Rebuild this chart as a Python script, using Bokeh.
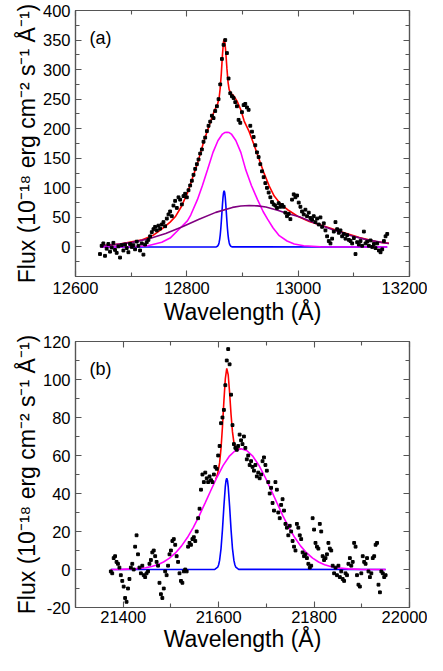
import numpy as np
from bokeh.plotting import figure
from bokeh.models import LinearAxis, FixedTicker, Range1d, Label, NumeralTickFormatter
from bokeh.layouts import column
from bokeh.embed import file_html
from bokeh.resources import INLINE

FONT = "Liberation Sans"
FRAME = "#555555"

# ---------------- panel (a) ----------------
A_WL_START = 12644
A_WL_STEP = 3
A_FLUX = [
    -12, 2, 6, -15, -3, 5, -8, -1, 7, -5,
    -10, 1, -18, 3, -6, 4, -2, -9, 5, 0,
    3, -4, 9, 2, -6, 6, -13, 4, 8, 12,
    18, 25, 30, 34, 28, 36, 31, 38, 42, 35,
    48, 55, 60, 52, 70, 78, 66, 84, 80, 72,
    86, 90, 84, 96, 104, 112, 122, 132, 140, 148,
    158, 165, 178, 185, 196, 205, 212, 222, 218, 230,
    238, 250, 275, 318, 342, 350, 328, 285, 260, 255,
    252, 245, 238, 215, 210, 228, 240, 242, 236, 232,
    205, 195, 186, 172, 160, 152, 140, 128, 118, 108,
    100, 92, 84, 76, 72, 70, 66, 74, 68, 71,
    68, 58, 52, 56, 47, 80, 89, 84, 87, 75,
    68, 60, 55, 63, 52, 58, 49, 46, 52, 42,
    48, 38, 50, 34, 40, 28, 18, 10, 6, 14,
    26, 42, 30, 24, 28, 18, 22, 14, 20, 12,
    10, 6, 15, -12, 8, 4, 10, 2, 26, 6,
    9, 2, 11, 0, 5, -2, 6, -6, -9, -4,
    10, 18, 22,
]

A_RED_X = [12645, 12680, 12720, 12740, 12756, 12770, 12780, 12790, 12801, 12810,
           12819, 12831, 12843, 12850, 12855, 12858, 12860, 12862, 12864, 12865,
           12866, 12867, 12868, 12869, 12870, 12872, 12874, 12876, 12879, 12884,
           12890, 12897, 12903, 12912, 12921, 12930, 12939, 12948, 12957, 12969,
           12981, 12999, 13020, 13050, 13080, 13110, 13140, 13163]
A_RED_Y = [2, 5, 12, 20, 31, 42, 52, 68, 91, 116,
           141, 180, 213, 232, 241, 252, 269, 294, 325, 337,
           348, 351, 349, 340, 329, 302, 279, 266, 260, 256,
           247, 232, 213, 195, 172, 148, 124, 103, 86, 72,
           63, 52, 43, 34, 25, 16, 9, 6]

A_MAG_X = [12645, 12700, 12730, 12755, 12770, 12786, 12801, 12807, 12819, 12828,
           12837, 12847, 12856, 12864, 12868, 12872, 12876, 12880, 12888, 12897,
           12906, 12916, 12927, 12937, 12945, 12955, 12966, 12980, 12993, 13010,
           13040, 13160]
A_MAG_Y = [0, 0.3, 2, 8, 15, 30, 44, 54, 80, 104,
           130, 160, 180, 191, 193.5, 194, 193.5, 191, 180, 160,
           130, 104, 80, 60, 47, 32, 19, 10, 5, 2,
           0.4, 0]

A_BLUE_X = [12645, 12853, 12855, 12857, 12858, 12859, 12860, 12861, 12862, 12863,
            12864, 12865, 12866, 12867, 12868, 12869, 12870, 12871, 12872, 12873,
            12874, 12875, 12876, 12877, 12879, 12881, 13160]
A_BLUE_Y = [0, 0.2, 1.1, 4.2, 7.6, 12.9, 20.5, 30.8, 43.5, 57.6,
            71.7, 83.8, 92.1, 95, 92.1, 83.8, 71.7, 57.6, 43.5, 30.8,
            20.5, 12.9, 7.6, 4.2, 1.1, 0.2, 0]

A_PUR_X = [12645, 12672, 12702, 12732, 12762, 12792, 12822, 12852, 12882, 12897,
           12912, 12927, 12942, 12963, 12982, 13002, 13032, 13062, 13092, 13122,
           13152, 13163]
A_PUR_Y = [2.0, 3.9, 7.7, 13.9, 22.7, 34.1, 46.7, 58.5, 66.9, 69.2,
           70, 69.5, 67.6, 62, 56, 51, 39.8, 29.0, 19.7, 12.4,
           7.3, 5.9]

A_XTICKS = [12600, 12800, 13000, 13200]
A_XMINOR = [12700, 12900, 13100]
A_YTICKS = [0, 50, 100, 150, 200, 250, 300, 350, 400]
A_YMINOR = [-25, 25, 75, 125, 175, 225, 275, 325, 375]

# ---------------- panel (b) ----------------
B_WL_START = 21374
B_WL_STEP = 3
B_FLUX = [
    -1, -2, 6, 7, 4, 3, 1, -3, -6, -9,
    -15, -17, -10, -5, 1, 3, 0, 12, 18, 8,
    1, -2, 2, -3, -4, -2, -1, 3, 5, 9,
    10, 7, 4, 2, -7, -13, -15, -10, -1, -3,
    2, 8, 10, 15, 16, 13, 7, 4, -2, -6,
    -7, -1, 0, -1, 12, 14, 13, 16, 17, 15,
    20, 27, 32, 42, 50, 46, 51, 48, 46, 49,
    47, 46, 50, 54, 53, 60, 65, 77, 80, 84,
    97, 110, 116, 108, 92, 76, 66, 64, 63, 65,
    71, 68, 66, 70, 64, 58, 60, 55, 57, 54,
    52, 55, 49, 51, 48, 50, 57, 59, 55, 52,
    46, 40, 43, 35, 31, 46, 42, 30, 27, 34,
    37, 31, 24, 22, 18, 23, 20, 15, 12, 10,
    24, 22, 18, 16, 9, 7, 8, 6, 3, 1,
    2, 27, 21, 14, 12, 11, 24, 20, 7, 5,
    6, 8, 14, 11, 10, 2, -2, 1, -3, 2,
    -4, -1, -5, -6, -2, -3, 3, 6, 2, 4,
    14, 12, -3, -8, -9, -2, 7, 4, 3, 6,
    -1, -4, -2, 6, 7, 13, 14, -8, -12, -1,
    -2, -4, -3,
]

B_RED_X = [21594, 21598, 21602, 21605, 21608, 21611, 21614, 21617, 21620, 21623,
           21626, 21629, 21632, 21636, 21642, 21646]
B_RED_Y = [47.5, 50.5, 56.1, 63.8, 75.1, 88.6, 100.4, 105.8, 102.6, 93.0,
           81.6, 72.4, 66.8, 63.9, 63.3, 63.5]

B_MAG_X = [21374, 21397, 21422, 21447, 21459.5, 21472, 21484.5, 21497, 21509.5, 21522,
           21534.5, 21547, 21559.5, 21572, 21584.5, 21597, 21609.5, 21622, 21634.5, 21647,
           21659.5, 21672, 21684.5, 21697, 21709.5, 21722, 21734.5, 21747, 21759.5, 21772,
           21784.5, 21797, 21809.5, 21822, 21834.5, 21847, 21872, 21897, 21950]
B_MAG_Y = [0, 0.09, 0.31, 0.95, 1.58, 2.55, 3.97, 5.98, 8.7, 12.3,
           16.8, 22.2, 28.4, 35.2, 42.1, 48.8, 54.8, 59.5, 62.5, 63.5,
           62.5, 59.5, 54.8, 48.8, 42.1, 35.2, 28.4, 22.2, 16.8, 12.3,
           8.7, 5.98, 3.97, 2.55, 1.58, 0.95, 0.31, 0.09, 0]

B_BLUE_X = [21374, 21592, 21598, 21600, 21602, 21605, 21608, 21611, 21614, 21615.5,
            21617, 21618.5, 21620, 21623, 21626, 21629, 21632, 21634, 21636, 21642, 21950]
B_BLUE_Y = [0, 0.08, 1.2, 2.5, 4.8, 11.0, 21.0, 33.2, 43.8, 46.9,
            48, 46.9, 43.8, 33.2, 21.0, 11.0, 4.8, 2.5, 1.2, 0.08, 0]

B_XTICKS = [21400, 21600, 21800, 22000]
B_XMINOR = [21500, 21700, 21900]
B_YTICKS = [-20, 0, 20, 40, 60, 80, 100, 120]
B_YMINOR = [-10, 10, 30, 50, 70, 90, 110]

Y_LABEL = "Flux (10\u207b\u00b9\u2078 erg cm\u207b\u00b2 s\u207b\u00b9 \u00c5\u207b\u00b9)"
X_LABEL = "Wavelength (\u00c5)"

# ---------------- layout constants ----------------
FIG_W = 427
FRAME_W = 334
FRAME_H = 266
BORDER_L = 75
BORDER_R = FIG_W - BORDER_L - FRAME_W


def style_axis(ax, ticks, minor, show_labels=True, standoff=5):
    ax.ticker = FixedTicker(ticks=ticks, minor_ticks=minor)
    ax.formatter = NumeralTickFormatter(format="0")
    ax.axis_line_color = FRAME
    ax.axis_line_width = 1.2
    ax.major_tick_line_color = FRAME
    ax.minor_tick_line_color = FRAME
    ax.major_tick_line_width = 1.1
    ax.minor_tick_line_width = 1.1
    ax.major_tick_in = 6
    ax.major_tick_out = 0
    ax.minor_tick_in = 4
    ax.minor_tick_out = 0
    if show_labels:
        ax.major_label_text_font = FONT
        ax.major_label_text_font_size = "16.5px"
        ax.major_label_text_color = "black"
        ax.major_label_standoff = standoff
    else:
        ax.major_label_text_font_size = "1px"
        ax.major_label_text_color = None
        ax.major_label_text_alpha = 0
        ax.major_label_standoff = 0


def build_panel(xr, yr, xt, xm, yt, ym, top, bottom, tag, xstand, labstand):
    height = top + FRAME_H + bottom
    p = figure(width=FIG_W, height=height, x_range=Range1d(*xr), y_range=Range1d(*yr),
               output_backend="svg", toolbar_location=None,
               min_border_left=BORDER_L, min_border_right=BORDER_R,
               min_border_top=top, min_border_bottom=bottom)
    p.grid.visible = False
    p.outline_line_color = FRAME
    p.outline_line_width = 1.2
    p.background_fill_color = "white"
    p.border_fill_color = "white"
    style_axis(p.xaxis[0], xt, xm, True, xstand)
    style_axis(p.yaxis[0], yt, ym, True, 5)
    for ax, lab, stand in ((p.xaxis[0], X_LABEL, labstand), (p.yaxis[0], Y_LABEL, 0)):
        ax.axis_label = lab
        ax.axis_label_text_font = FONT
        ax.axis_label_text_font_size = "23px"
        ax.axis_label_text_font_style = "normal"
        ax.axis_label_text_color = "black"
        ax.axis_label_standoff = stand
    top_ax = LinearAxis()
    style_axis(top_ax, xt, xm, False)
    p.add_layout(top_ax, "above")
    right_ax = LinearAxis()
    style_axis(right_ax, yt, ym, False)
    p.add_layout(right_ax, "right")

    xs = (xr[1] - xr[0]) / FRAME_W
    ys = (yr[1] - yr[0]) / FRAME_H
    p.add_layout(Label(x=xr[0] + 14 * xs, y=yr[0] + (FRAME_H - 27.5) * ys, text=tag,
                       text_align="left", text_baseline="alphabetic",
                       text_font=FONT, text_font_size="18px", text_color="black"))
    return p


pa = build_panel((12600, 13200), (-50, 400), A_XTICKS, A_XMINOR, A_YTICKS, A_YMINOR,
                 10, 55, "(a)", 5, 2)
a_wl = A_WL_START + A_WL_STEP * np.arange(len(A_FLUX))
pa.line(A_RED_X, A_RED_Y, line_color="#ff0000", line_width=1.6)
pa.line(A_BLUE_X, A_BLUE_Y, line_color="#0000ff", line_width=1.6)
pa.line(A_MAG_X, A_MAG_Y, line_color="#ff00ff", line_width=1.6)
pa.line(A_PUR_X, A_PUR_Y, line_color="#800080", line_width=1.6)
pa.scatter(a_wl, A_FLUX, marker="square", size=2.8, color="black")

pb = build_panel((21300, 22000), (-20, 120), B_XTICKS, B_XMINOR, B_YTICKS, B_YMINOR,
                 10, 48, "(b)", 3, 0)
b_wl = B_WL_START + B_WL_STEP * np.arange(len(B_FLUX))
pb.line(B_RED_X, B_RED_Y, line_color="#ff0000", line_width=1.6)
pb.line(B_BLUE_X, B_BLUE_Y, line_color="#0000ff", line_width=1.6)
pb.line(B_MAG_X, B_MAG_Y, line_color="#ff00ff", line_width=1.6)
pb.scatter(b_wl, B_FLUX, marker="square", size=2.8, color="black")

layout = column(pa, pb, spacing=0)
open("out.html", "w").write(file_html(layout, INLINE))
